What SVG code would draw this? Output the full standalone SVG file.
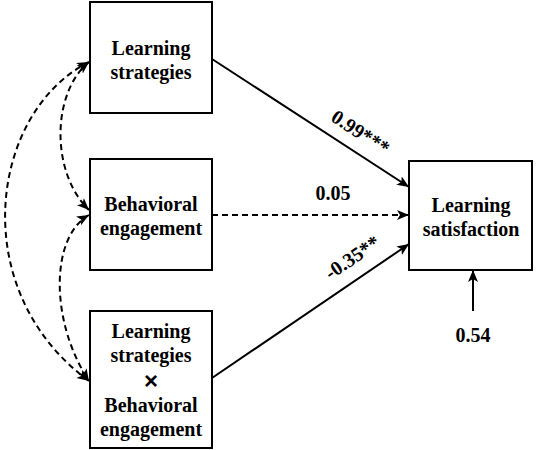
<svg xmlns="http://www.w3.org/2000/svg" width="536" height="450" viewBox="0 0 536 450">
<style>
.box{fill:#fff;stroke:#000;stroke-width:2}
.t{font-family:"Liberation Serif","Times New Roman",serif;font-weight:bold;font-size:20px;fill:#000;text-anchor:middle}
.ln{fill:none;stroke:#000;stroke-width:2}
.dash{stroke-dasharray:6 4}
</style>
<defs>
<marker id="ah" markerUnits="userSpaceOnUse" markerWidth="14" markerHeight="12" refX="12" refY="5" orient="auto-start-reverse" viewBox="0 0 14 12">
<path d="M0,0 L12,5 L0,10 L3,5 z" fill="#000"/>
</marker>
</defs>
<rect width="536" height="450" fill="#fff"/>
<g id="connectors">
<path class="ln" d="M212,59 L409,187" marker-end="url(#ah)"/>
<path class="ln dash" d="M212,215 L409,215" marker-end="url(#ah)"/>
<path class="ln" d="M212,378 L409,244" marker-end="url(#ah)"/>
<path class="ln" d="M473,311 L473,270" marker-end="url(#ah)"/>
<path class="ln dash" d="M89,62 C52,92 50,172 89,210" marker-start="url(#ah)" marker-end="url(#ah)"/>
<path class="ln dash" d="M89,62 C-10,112 -35,290 89,381" marker-start="url(#ah)" marker-end="url(#ah)"/>
<path class="ln dash" d="M89,215 C50,237 50,322 89,381" marker-start="url(#ah)" marker-end="url(#ah)"/>
<text class="t" transform="translate(357,138) rotate(33)">0.99***</text>
<text class="t" x="333" y="200">0.05</text>
<text class="t" transform="translate(356,263) rotate(-34)">-0.35**</text>
<text class="t" x="473" y="342">0.54</text>
</g>
<g id="n1">
<rect class="box" x="90" y="2" width="122" height="111"/>
<text class="t" x="151" y="55">Learning</text>
<text class="t" x="151" y="79">strategies</text>
</g>
<g id="n2">
<rect class="box" x="90" y="159" width="122" height="111"/>
<text class="t" x="151" y="211">Behavioral</text>
<text class="t" x="151" y="235">engagement</text>
</g>
<g id="n3">
<rect class="box" x="90" y="311" width="122" height="137"/>
<text class="t" x="151" y="338">Learning</text>
<text class="t" x="151" y="362">strategies</text>
<text class="t" x="151" y="389" style="font-family:'Liberation Sans',Arial,sans-serif;font-size:24px">×</text>
<text class="t" x="151" y="412">Behavioral</text>
<text class="t" x="151" y="436">engagement</text>
</g>
<g id="n4">
<rect class="box" x="409" y="161" width="123" height="109"/>
<text class="t" x="471" y="212">Learning</text>
<text class="t" x="471" y="236">satisfaction</text>
</g>
</svg>
